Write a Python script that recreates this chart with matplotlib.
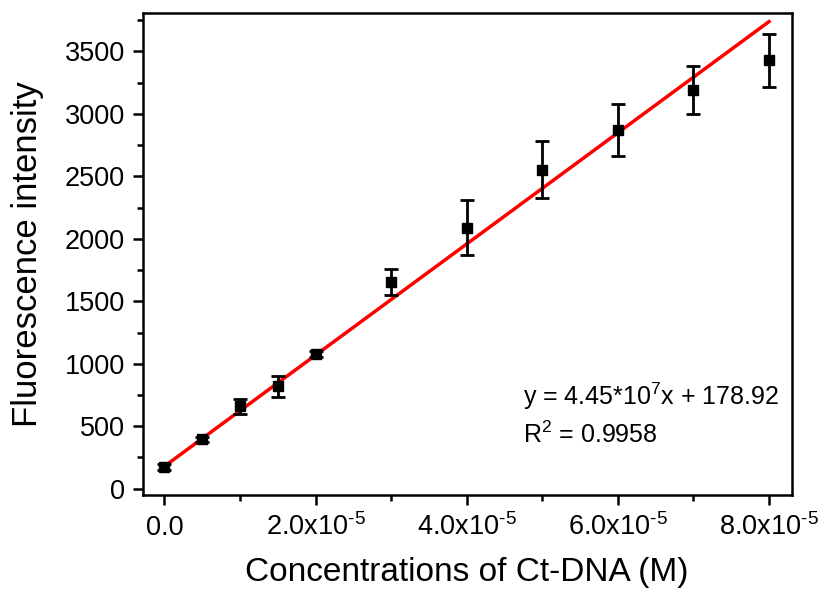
import numpy as np
import matplotlib
matplotlib.use("Agg")
import matplotlib.pyplot as plt
from matplotlib.ticker import MultipleLocator, FixedLocator

# ===============================
# Dados
# ===============================
conc = [0.0, 0.5e-5, 1.0e-5, 1.5e-5, 2.0e-5, 3.0e-5, 4.0e-5, 5.0e-5, 6.0e-5, 7.0e-5, 8.0e-5]
intensidade = [175, 397, 660, 819, 1080, 1655, 2090, 2555, 2870, 3190, 3430]
erro = [25, 20, 60, 87, 25, 101, 221, 230, 210, 190, 213]

inclinacao = 4.45e7
intercepto = 178.92

xticks = [0.0, 2.0e-5, 4.0e-5, 6.0e-5, 8.0e-5]
xticklabels = ["0.0", "2.0x10$^{\u20105}$", "4.0x10$^{\u20105}$",
               "6.0x10$^{\u20105}$", "8.0x10$^{\u20105}$"]

# ===============================
# Estilo
# ===============================
plt.rcParams['font.family'] = ['Liberation Sans', 'DejaVu Sans']
plt.rcParams['mathtext.default'] = 'regular'

fig = plt.figure(figsize=(8.26, 5.97), dpi=100)
ax = fig.add_axes([0.1728, 0.1709, 0.7857, 0.8078])

ax.errorbar(conc, intensidade, yerr=erro, fmt='s', color='black',
            markersize=7.5, elinewidth=2.0, capsize=5, capthick=2.0, zorder=3)

xfit = np.array([conc[0], conc[-1]])
ax.plot(xfit, inclinacao * xfit + intercepto, color='red', linewidth=2.5, zorder=2)

ax.text(4.745e-5, 736, "y = 4.45*10$^{7}$x + 178.92", fontsize=18, va='center')
ax.text(4.745e-5, 428, "R$^{2}$ = 0.9958", fontsize=18, va='center')

ax.set_xlim(-0.286e-5, 8.30e-5)
ax.set_ylim(-50, 3810)

ax.xaxis.set_major_locator(FixedLocator(xticks))
ax.set_xticklabels(xticklabels)
ax.xaxis.set_minor_locator(MultipleLocator(1e-5))
ax.yaxis.set_major_locator(MultipleLocator(500))
ax.yaxis.set_minor_locator(MultipleLocator(250))

ax.tick_params(which='both', direction='out', top=False, right=False, width=1.8,
               labelsize=19.5)
ax.tick_params(which='major', length=7)
ax.tick_params(which='minor', length=4)
ax.tick_params(axis='y', which='major', pad=6)
ax.tick_params(axis='x', which='major', pad=22)
for lbl in ax.get_xticklabels():
    lbl.set_verticalalignment('baseline')

for s in ax.spines.values():
    s.set_linewidth(1.8)

ax.set_xlabel("Concentrations of Ct-DNA (M)", fontsize=24)
ax.set_ylabel("Fluorescence intensity", fontsize=25)
ax.xaxis.set_label_coords(0.5, -0.128)
ax.yaxis.set_label_coords(-0.152, 0.5)

fig.savefig("out.png", dpi=100)
